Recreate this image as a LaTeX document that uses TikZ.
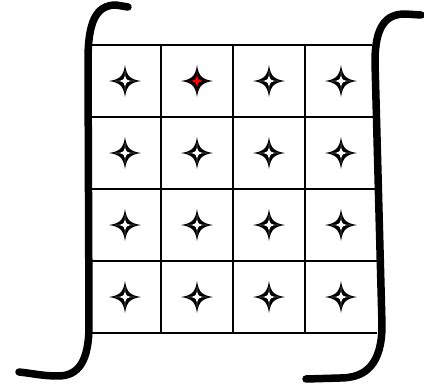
\documentclass[tikz,border=0pt]{standalone}
\usepackage{tikz}

\begin{document}
\begin{tikzpicture}[
  x=1pt,y=-1pt,
  cell line/.style={draw=black,line width=1.6pt},
  bracket/.style={draw=black,line width=7.5pt,line cap=round,line join=round},
  sparkle/.style={fill=black},
  sparkle core/.style={fill=white},
  sparkle hot/.style={fill=red}
]
\useasboundingbox (0,0) rectangle (424,385);
% grid
\foreach \y/\xr in {45/372,117/373,189/375,261/377,333/377}
  \draw[cell line] (91,\y) -- (\xr,\y);
\foreach \x in {91,161,233,305}
  \draw[cell line] (\x,45) -- (\x,333);
% stars
\foreach \cx/\cy/\core in {125/81/sparkle core,197/81/sparkle hot,269/81/sparkle core,341/81/sparkle core,
    125/153/sparkle core,197/153/sparkle core,269/153/sparkle core,341/153/sparkle core,
    125/225/sparkle core,197/225/sparkle core,269/225/sparkle core,341/225/sparkle core,
    125/297/sparkle core,197/297/sparkle core,269/297/sparkle core,341/297/sparkle core}{
  \path[sparkle] (\cx,\cy-16) .. controls (\cx+1.6,\cy-5) and (\cx+5,\cy-1.6) .. (\cx+16,\cy)
    .. controls (\cx+5,\cy+1.6) and (\cx+1.6,\cy+5) .. (\cx,\cy+16)
    .. controls (\cx-1.6,\cy+5) and (\cx-5,\cy+1.6) .. (\cx-16,\cy)
    .. controls (\cx-5,\cy-1.6) and (\cx-1.6,\cy-5) .. cycle;
  \path[\core] (\cx,\cy-10) .. controls (\cx,\cy-1) and (\cx+1,\cy) .. (\cx+10,\cy)
    .. controls (\cx+1,\cy) and (\cx,\cy+1) .. (\cx,\cy+10)
    .. controls (\cx,\cy+1) and (\cx-1,\cy) .. (\cx-10,\cy)
    .. controls (\cx-1,\cy) and (\cx,\cy-1) .. cycle;
}
% brackets
\draw[bracket] (128,7) -- (116,5) .. controls (96,5) and (88,22) .. (88,60)
  -- (89,325) .. controls (89,362) and (78,376) .. (58,376)
  .. controls (42,376) and (30,373) .. (19,372);
\draw[bracket] (421,15) -- (405,14) .. controls (386,14) and (375,26) .. (375,62)
  -- (382,325) .. controls (382,364) and (366,378) .. (340,378) -- (306,379);
\end{tikzpicture}
\end{document}
